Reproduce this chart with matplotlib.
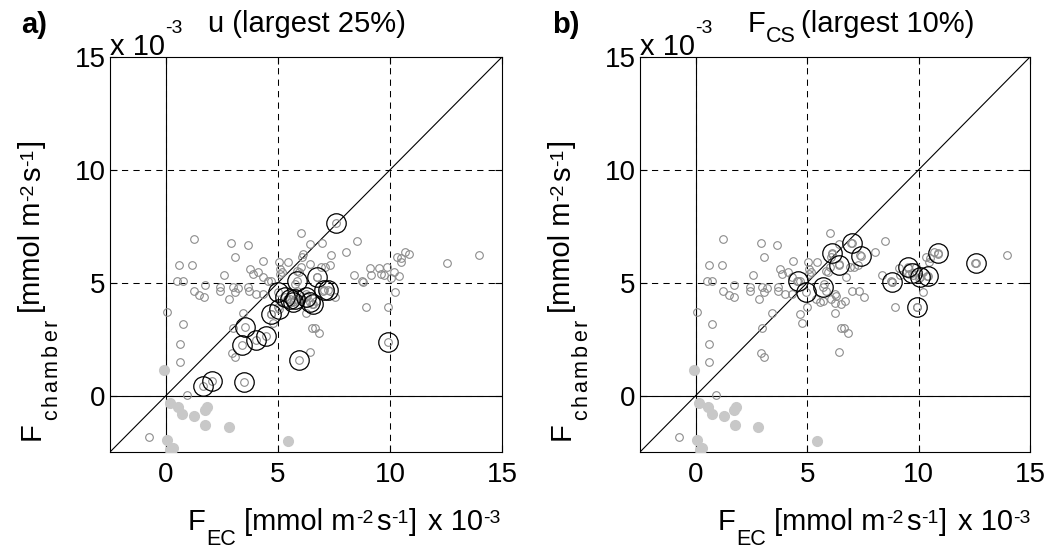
import numpy as np
import matplotlib.pyplot as plt

plt.rcParams['font.family'] = ['Liberation Sans', 'DejaVu Sans']
plt.rcParams['font.size'] = 20

# all data points (x 1e-3 mmol m-2 s-1): F_EC, F_chamber
gray_x = [1.24, 2.92, 3.64, 3.06, 0.59, 1.16, 4.35, 2.58, 3.77, 3.87, 4.12, 4.33, 4.54, 4.70,
          5.04, 5.45, 5.10, 5.10, 0.51, 0.75, 1.72, 1.24, 1.48, 1.71, 2.43, 2.43, 2.97, 3.20,
          3.06, 2.82, 3.68, 3.70, 4.01, 4.31, 0.05, 0.75, 0.61, 0.61, 3.43, 2.99, 4.78, 6.53,
          6.66, 6.82, 6.44, 2.93, 3.07, 0.93, -0.76,
          6.02, 6.43, 6.98, 6.12, 6.09, 7.38, 8.03, 8.51, 6.41, 7.30, 6.93, 9.12, 9.15, 8.38,
          8.76, 8.92, 9.52, 9.59, 9.74, 9.88, 10.03, 10.20, 10.39, 10.32, 10.50, 10.47, 10.69,
          10.86, 12.54, 13.97, 10.22, 9.91, 7.55,
          5.19, 5.86, 6.01, 5.93, 5.74, 5.86, 6.08, 6.23, 6.70, 6.52, 6.30, 7.01, 7.34, 6.27,
          5.71, 5.41, 5.56, 5.00, 4.67, 6.27, 6.75, 7.12, 8.80]
gray_y = [6.93, 6.76, 6.69, 6.13, 5.80, 5.80, 5.95, 5.33, 5.61, 5.40, 5.49, 5.27, 5.09, 5.07,
          5.90, 5.90, 5.60, 5.40, 5.06, 5.06, 4.92, 4.62, 4.45, 4.35, 4.83, 4.65, 4.83, 4.77,
          4.60, 4.28, 4.83, 4.62, 4.52, 4.52, 3.71, 3.15, 2.27, 1.47, 3.64, 3.00, 3.21, 3.00,
          3.00, 2.77, 1.92, 1.89, 1.70, 0.02, -1.84,
          7.22, 6.70, 6.76, 6.29, 6.14, 6.22, 6.37, 6.85, 5.84, 5.80, 5.70, 5.65, 5.33, 5.33,
          5.08, 3.94, 5.64, 5.38, 5.33, 5.71, 5.21, 5.49, 5.31, 6.12, 6.09, 5.93, 6.35,
          6.27, 5.89, 6.21, 4.60, 3.93, 4.35,
          5.46, 5.53, 5.68, 5.46, 4.94, 4.64, 4.28, 4.50, 4.20, 4.05, 4.42, 4.64, 4.62, 4.08,
          4.20, 4.28, 4.13, 3.93, 3.61, 3.68, 5.24, 5.68, 5.05]

# points drawn as filled light-grey dots
neg_x = [-0.08, 0.16, 0.55, 0.73, 1.27, 1.72, 1.83, 1.75, 2.80, 0.05, 0.19, 0.30, 5.43]
neg_y = [1.12, -0.34, -0.49, -0.81, -0.90, -0.62, -0.50, -1.30, -1.40, -1.95, -2.40, -2.34, -2.03]

# a) largest 25% of u
big_a_x = [7.59, 5.00, 5.83, 6.75, 7.07, 7.25, 5.32, 5.54, 5.76, 5.69, 6.27, 6.41, 6.56,
           5.03, 4.69, 3.54, 4.45, 4.04, 3.40, 5.95, 2.04, 1.64, 3.48, 9.90]
big_a_y = [7.65, 4.59, 5.07, 5.25, 4.69, 4.66, 4.36, 4.29, 4.29, 4.14, 4.36, 4.14, 4.07,
           3.85, 3.62, 3.06, 2.62, 2.44, 2.22, 1.56, 0.64, 0.42, 0.58, 2.38]

# b) largest 10% of F_CS
big_b_x = [7.01, 6.12, 7.41, 6.45, 4.60, 4.94, 5.71, 8.79, 9.53, 9.70, 10.07, 10.41, 10.89, 12.59, 9.93]
big_b_y = [6.76, 6.30, 6.20, 5.78, 5.09, 4.60, 4.82, 5.04, 5.68, 5.41, 5.24, 5.31, 6.30, 5.89, 3.93]

ticks = [0, 5, 10, 15]
lims = (-2.5, 15)

W, H = 1059, 552
fig = plt.figure(figsize=(W / 100, H / 100), dpi=100)
ax_a = fig.add_axes([110 / W, 100 / H, 392 / W, 395 / H])
ax_b = fig.add_axes([640 / W, 100 / H, 390 / W, 395 / H])
renderer = fig.canvas.get_renderer()

MAIN, SUB, SUP = 21, 15.5, 14


def chain(x0, y0, pieces, rot=0, mid=None):
    """pieces: (text, size, shift down in px, gap before in px).
    x0, y0: start in pixels from top-left (baseline). rot=90 runs upward.
    if mid is given (rot=90), the chain is centred on that y."""
    objs = []
    for s, size, shift, gap in pieces:
        t = fig.text(0, 0, s, fontsize=size, ha='left', va='baseline',
                     rotation_mode='anchor')
        w = t.get_window_extent(renderer).width
        objs.append((t, w, shift, gap))
    total = sum(w + g for _, w, _, g in objs)
    if rot == 90 and mid is not None:
        y0 = mid + total / 2
    pos = 0
    for t, w, shift, gap in objs:
        pos += gap
        if rot == 0:
            t.set_position(((x0 + pos) / W, 1 - (y0 + shift) / H))
        else:
            t.set_rotation(90)
            t.set_position(((x0 + shift) / W, 1 - (y0 - pos) / H))
        pos += w


def labels(dx):
    chain(dx + 188, 530, [('F', MAIN, 0, 0), ('EC', SUB, 15, 0),
                          ('[mmol m', MAIN, 0, 9), ('-2', SUP, -7, 0),
                          ('s', MAIN, 0, 3), ('-1', SUP, -7, 0), (']', MAIN, 0, 1),
                          ('x 10', MAIN, 0, 11), ('-3', SUP, -7, 0)])
    ylab = [('F', MAIN, 0, 0)]
    ylab += [(c, SUB, 17, 2 if i == 0 else 3) for i, c in enumerate('chamber')]
    ylab += [('[mmol m', MAIN, 0, 6), ('-2', SUP, -7, 0),
             ('s', MAIN, 0, 3), ('-1', SUP, -7, 0), (']', MAIN, 0, 1)]
    chain(dx + 40, 0, ylab, rot=90, mid=290)
    chain(dx + 110, 55, [('x 10', MAIN, 0, 0), ('-3', SUP, -22, 0)])


def panel(ax, bx, by):
    ax.set_xlim(lims)
    ax.set_ylim(lims)
    for v in ticks[:3]:
        ax.axvline(v, color='k', lw=0.75, ls=(0, (6, 5)), zorder=1)
        ax.axhline(v, color='k', lw=0.75, ls=(0, (6, 5)), zorder=1)
    ax.axvline(0, color='k', lw=0.8, zorder=1)
    ax.axhline(0, color='k', lw=0.8, zorder=1)
    ax.plot(lims, lims, color='k', lw=0.8, zorder=1)
    allx = gray_x + bx
    ally = gray_y + by
    ax.plot(allx, ally, 'o', ms=5.5, mfc='none', mec='#8c8c8c', mew=0.8, zorder=3)
    ax.plot(neg_x, neg_y, 'o', ms=7, mfc='#c8c8c8', mec='#c8c8c8', zorder=3)
    ax.plot(bx, by, 'o', ms=14, mfc='none', mec='k', mew=0.9, zorder=4)
    ax.set_xticks(ticks)
    ax.set_yticks(ticks)
    ax.tick_params(direction='in', top=True, right=True, length=5, width=0.8, labelsize=20)
    ax.tick_params(axis='x', pad=7)
    ax.tick_params(axis='y', pad=3)
    for s in ax.spines.values():
        s.set_linewidth(0.8)


panel(ax_a, big_a_x, big_a_y)
panel(ax_b, big_b_x, big_b_y)
labels(0)
labels(530)

# titles
chain(208, 32, [('u (largest 25%)', MAIN, 0, 0)])
chain(748, 32, [('F', MAIN, 0, 0), ('CS', SUB, 10, 0), ('(largest 10%)', MAIN, 0, 5)])

chain(21, 33, [('a)', 21, 0, 0)])
chain(552, 33, [('b)', 21, 0, 0)])
for t in fig.texts[-2:]:
    t.set_fontweight('bold')

fig.savefig('out.png', dpi=100)
